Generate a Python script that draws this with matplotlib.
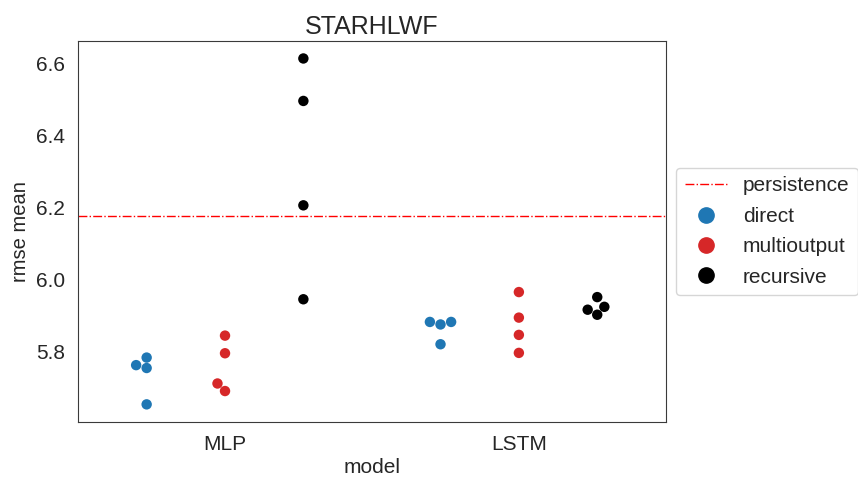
import matplotlib
matplotlib.use("Agg")
import matplotlib.pyplot as plt
from matplotlib.lines import Line2D
import pandas as pd
import seaborn as sns

models = ["MLP", "LSTM"]
strategies = ["direct", "multioutput", "recursive"]
colors = ["#1f77b4", "#d62728", "black"]

mlp_direct = [5.782, 5.761, 5.753, 5.652]
mlp_multioutput = [5.843, 5.794, 5.710, 5.689]
mlp_recursive = [6.613, 6.495, 6.205, 5.944]
lstm_direct = [5.881, 5.874, 5.881, 5.819]
lstm_multioutput = [5.964, 5.893, 5.845, 5.795]
lstm_recursive = [5.950, 5.923, 5.915, 5.901]
persistence = 6.174

sns.set_style("white")
plt.rcParams["font.family"] = ["Liberation Sans", "DejaVu Sans"]
plt.rcParams["text.color"] = "#262626"
plt.rcParams["axes.labelcolor"] = "#262626"

# long format table for seaborn
rows = []
for model, groups in zip(models, [[mlp_direct, mlp_multioutput, mlp_recursive],
                                  [lstm_direct, lstm_multioutput, lstm_recursive]]):
    for strat, vals in zip(strategies, groups):
        for v in vals:
            rows.append({"model": model, "strategy": strat, "rmse mean": v})
df = pd.DataFrame(rows)

fig = plt.figure(figsize=(8.58, 4.79), dpi=100)
ax = fig.add_axes([0.091, 0.119, 0.685, 0.795])

ax.axhline(persistence, color="red", ls="-.", lw=1)
sns.swarmplot(data=df, x="model", y="rmse mean", hue="strategy", order=models,
              hue_order=strategies, palette=colors, dodge=True, size=7.5,
              ax=ax, legend=False)

ax.set_xlim(-0.5, 1.5)
ax.set_ylim(5.603, 6.661)
ax.set_yticks([5.8, 6.0, 6.2, 6.4, 6.6])
ax.tick_params(labelsize=15, colors="#262626", pad=6)
ax.set_xlabel("model", fontsize=15, labelpad=3)
ax.set_ylabel("rmse mean", fontsize=14.5)
ax.set_title("STARHLWF", fontsize=18, pad=5)
for s in ax.spines.values():
    s.set_color("#3a3a3a")

handles = [Line2D([], [], color="red", ls="-.", lw=1, label="persistence")]
for strat, c in zip(strategies, colors):
    handles.append(Line2D([], [], marker="o", ls="", color=c, markersize=11, label=strat))
ax.legend(handles=handles, loc="center left", bbox_to_anchor=(1.0, 0.5),
          fontsize=15, handlelength=2.1, handletextpad=0.7, labelspacing=0.55)

fig.savefig("out.png", dpi=100)
